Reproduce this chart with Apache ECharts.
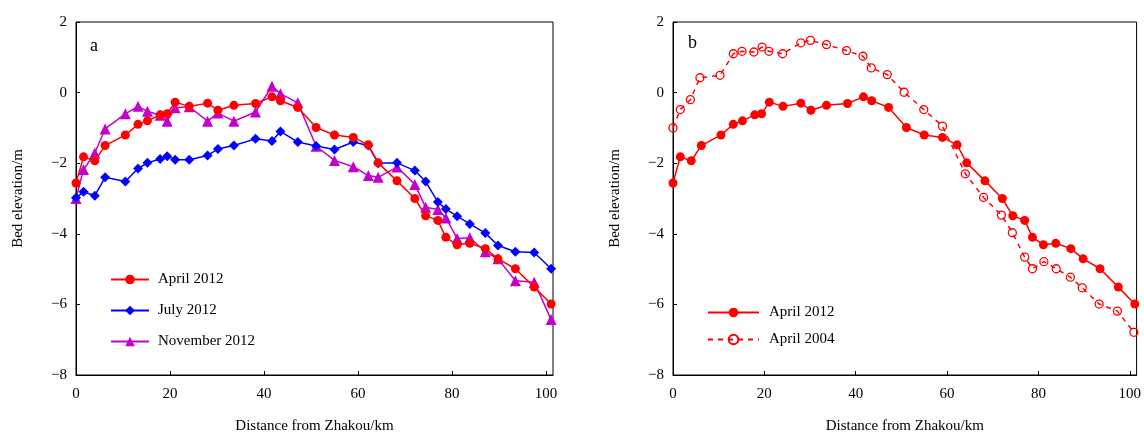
<!DOCTYPE html>
<html>
<head>
<meta charset="utf-8">
<script src="https://cdn.jsdelivr.net/npm/echarts@6/dist/echarts.min.js"></script>
<style>
  html, body { margin: 0; padding: 0; background: #fff; }
  #chart { width: 1144px; height: 439px; }
</style>
</head>
<body>
<div id="chart"></div>
<script>
// Cross-section distances downstream of Zhakou (km)
const distanceKm = [0, 1.6, 4.0, 6.2, 10.5, 13.2, 15.2, 17.9, 19.4, 21.1, 24.1, 28.0, 30.2, 33.6, 38.2, 41.7, 43.5, 47.2,
  51.1, 55.0, 59.0, 62.2, 64.3, 68.3, 72.1, 74.4, 77.0, 78.7, 81.1, 83.8, 87.1, 89.8, 93.5, 97.5, 101.1];
// Bed elevation (m) per survey
const april2012 = [-2.56, -1.82, -1.93, -1.50, -1.20, -0.90, -0.80, -0.63, -0.60, -0.27, -0.39, -0.30, -0.50, -0.36, -0.31, -0.12, -0.23, -0.42,
  -0.99, -1.20, -1.27, -1.48, -1.99, -2.50, -3.00, -3.49, -3.62, -4.10, -4.31, -4.27, -4.42, -4.71, -4.99, -5.51, -5.99];
const july2012 = [-2.98, -2.81, -2.92, -2.40, -2.52, -2.15, -1.99, -1.88, -1.80, -1.90, -1.90, -1.78, -1.60, -1.50, -1.31, -1.37, -1.10, -1.40,
  -1.51, -1.61, -1.40, -1.50, -2.00, -1.99, -2.21, -2.52, -3.10, -3.30, -3.50, -3.72, -3.98, -4.33, -4.51, -4.53, -4.99];
const november2012 = [-3.00, -2.18, -1.71, -1.03, -0.60, -0.39, -0.53, -0.64, -0.81, -0.43, -0.40, -0.81, -0.58, -0.81, -0.55, 0.18, -0.03, -0.29,
  -1.52, -1.92, -2.10, -2.35, -2.40, -2.11, -2.60, -3.25, -3.31, -3.55, -4.13, -4.11, -4.51, -4.71, -5.33, -5.37, -6.43];
const distanceKm2004 = [0, 1.6, 3.8, 5.9, 10.3, 13.2, 15.1, 17.7, 19.5, 21.0, 24.0, 28.0, 30.1, 33.6, 38.0, 41.6, 43.4, 46.9,
  50.6, 54.9, 59.0, 64.0, 68.0, 71.9, 74.3, 77.0, 78.7, 81.2, 83.9, 87.0, 89.6, 93.3, 97.3, 100.9];
const april2004 = [-1.00, -0.48, -0.20, 0.42, 0.49, 1.10, 1.17, 1.15, 1.29, 1.17, 1.10, 1.41, 1.48, 1.36, 1.19, 1.03, 0.70, 0.51,
  0.01, -0.48, -0.95, -2.30, -2.97, -3.47, -3.97, -4.66, -4.99, -4.79, -4.99, -5.23, -5.53, -5.99, -6.19, -6.79];

// Axis ranges and tick steps
const xRange = [0, 101.5];
const xStep = 20;
const yRange = [-8, 2];
const yStep = 2;
const panelLetters = ['a', 'b'];

const FONT = '"Liberation Serif", "Times New Roman", serif';
const RED = '#ff0000';
const BLUE = '#0000ff';
const PURPLE = '#c400cc';

const zip = (xs, ys) => xs.map((x, i) => [x, ys[i]]);

function xAxisFor(gridIndex) {
  return {
    gridIndex, type: 'value', min: xRange[0], max: xRange[1], interval: xStep,
    name: 'Distance from Zhakou/km', nameLocation: 'middle', nameGap: 44,
    nameTextStyle: { fontFamily: FONT, fontSize: 15, color: '#000' },
    axisLine: { onZero: false, lineStyle: { color: '#000', width: 1 } },
    axisTick: { inside: true, length: 4, lineStyle: { color: '#000' } },
    axisLabel: {
      fontFamily: FONT, fontSize: 15, color: '#000', margin: 12, showMaxLabel: false,
      formatter: v => (Math.abs(v % xStep) < 1e-9 ? String(v) : '')
    },
    splitLine: { show: false }
  };
}

function yAxisFor(gridIndex) {
  return {
    gridIndex, type: 'value', min: yRange[0], max: yRange[1], interval: yStep,
    name: 'Bed elevation/m', nameLocation: 'middle', nameGap: 50,
    nameTextStyle: { fontFamily: FONT, fontSize: 15, color: '#000' },
    axisLine: { onZero: false, lineStyle: { color: '#000', width: 1 } },
    axisTick: { inside: true, length: 4, lineStyle: { color: '#000' } },
    axisLabel: {
      fontFamily: FONT, fontSize: 15, color: '#000', margin: 9,
      formatter: v => String(v).replace('-', '\u2212')
    },
    splitLine: { show: false }
  };
}

function lineSeries(name, data, axis, color, symbol, size, extra) {
  return Object.assign({
    name, type: 'line', data, xAxisIndex: axis, yAxisIndex: axis,
    symbol, symbolSize: size, showAllSymbol: true,
    lineStyle: { color, width: 1.5 },
    itemStyle: { color },
    emphasis: { disabled: true },
    z: 3
  }, extra || {});
}

const option = {
  animation: false,
  backgroundColor: '#fff',
  textStyle: { fontFamily: FONT },
  grid: [
    { left: 76, top: 22, width: 477, height: 353, show: true, borderColor: '#000', borderWidth: 1, backgroundColor: 'transparent' },
    { left: 673, top: 22, width: 471.5, height: 353, show: true, borderColor: '#000', borderWidth: 1, backgroundColor: 'transparent' }
  ],
  title: [
    { text: panelLetters[0], left: 85, top: 32, textStyle: { fontFamily: FONT, fontSize: 18, fontWeight: 'normal', color: '#000' } },
    { text: panelLetters[1], left: 683, top: 29, textStyle: { fontFamily: FONT, fontSize: 18, fontWeight: 'normal', color: '#000' } }
  ],
  legend: [
    {
      data: ['April 2012', 'July 2012', 'November 2012'],
      orient: 'vertical', left: 105, top: 267, itemWidth: 38, itemHeight: 12, itemGap: 16,
      textStyle: { fontFamily: FONT, fontSize: 15, color: '#000', padding: [0, 0, 0, 4] },
      selectedMode: false
    },
    {
      data: ['April 2012', 'April 2004'],
      orient: 'vertical', left: 702, top: 300, itemWidth: 51, itemHeight: 12, itemGap: 12,
      textStyle: { fontFamily: FONT, fontSize: 15, color: '#000', padding: [0, 0, 0, 5] },
      selectedMode: false
    }
  ],
  xAxis: [xAxisFor(0), xAxisFor(1)],
  yAxis: [yAxisFor(0), yAxisFor(1)],
  series: [
    lineSeries('November 2012', zip(distanceKm, november2012), 0, PURPLE, 'triangle', 11),
    lineSeries('July 2012', zip(distanceKm, july2012), 0, BLUE, 'diamond', 10),
    lineSeries('April 2012', zip(distanceKm, april2012), 0, RED, 'circle', 9),
    lineSeries('April 2012', zip(distanceKm, april2012), 1, RED, 'circle', 9),
    lineSeries('April 2004', zip(distanceKm2004, april2004), 1, RED, 'circle', 8, {
      lineStyle: { color: RED, width: 1.5, type: [5, 5] },
      itemStyle: { color: 'rgba(255,255,255,0)', borderColor: RED, borderWidth: 1.3 }
    })
  ]
};

const chart = echarts.init(document.getElementById('chart'), null, { renderer: 'canvas' });
chart.setOption(option);
</script>
</body>
</html>
